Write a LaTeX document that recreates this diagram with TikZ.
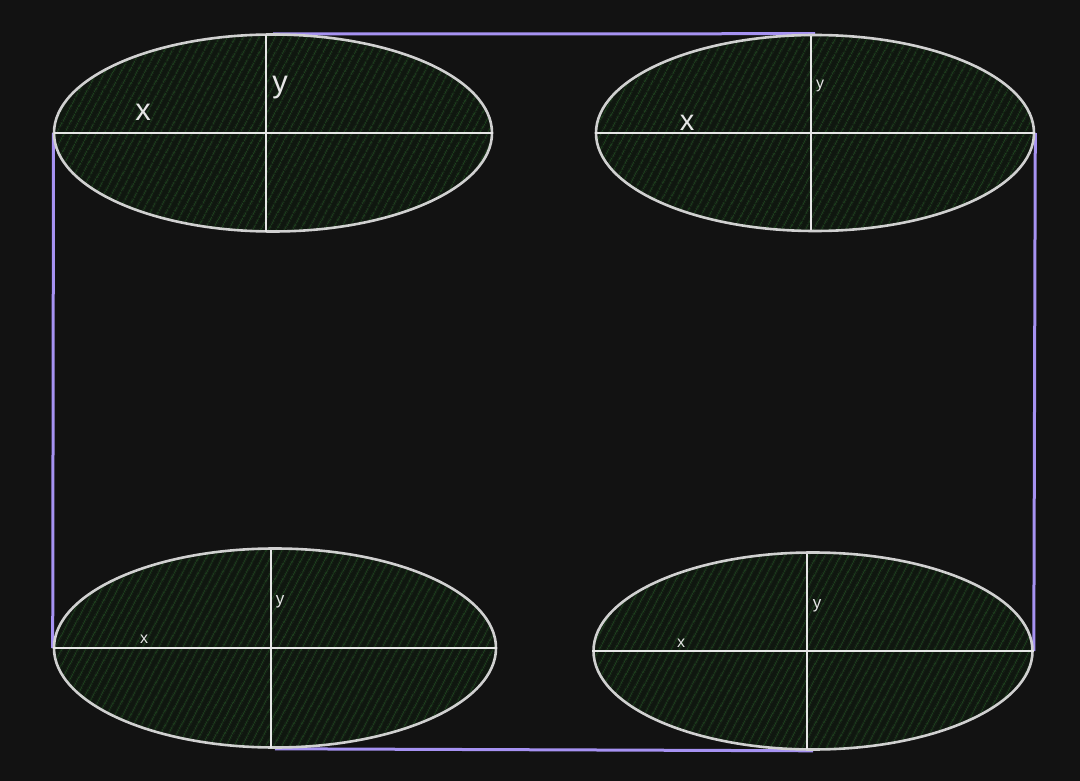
\documentclass[tikz,border=0pt]{standalone}
\usepackage{fontspec}
\setmainfont{Liberation Sans}
\usetikzlibrary{shapes.geometric,patterns.meta,backgrounds}
\definecolor{bgc}{HTML}{121212}
\definecolor{fillc}{HTML}{0F170F}
\definecolor{hatchc}{HTML}{1F421F}
\definecolor{edgec}{HTML}{D0D0D0}
\definecolor{axisc}{HTML}{E6E6E6}
\definecolor{linkc}{HTML}{A692F2}
\tikzset{
  blob/.style={ellipse, draw=edgec, line width=2.6pt, inner sep=0pt,
    preaction={fill=fillc},
    pattern={Lines[angle=62, distance=6.5pt, line width=1pt]}, pattern color=hatchc},
  axisline/.style={draw=axisc, line width=2.8pt},
  link/.style={draw=linkc, line width=3pt},
  lbl/.style={text=axisc, inner sep=0pt, font=\fontsize{#1}{#1}\selectfont},
}
\begin{document}
\begin{tikzpicture}[x=1pt, y=-1pt]
\useasboundingbox (0,0) rectangle (1080,781);
\node[blob, minimum width=438pt, minimum height=197pt] (e1) at (273,133) {};
\node[blob, minimum width=438pt, minimum height=196pt] (e2) at (815,133) {};
\node[blob, minimum width=442pt, minimum height=199pt] (e3) at (275,648) {};
\node[blob, minimum width=439pt, minimum height=197pt] (e4) at (813,651) {};
\begin{scope}[on background layer]
\fill[bgc] (0,0) rectangle (1080,781);
\draw[link] (e1.west) -- (e3.west);
\draw[link] (e1.north) -- (e2.north);
\draw[link] (e2.east) -- (e4.east);
\draw[link] (e3.south) -- (e4.south);
\end{scope}
% axes
\draw[axisline] (e1.west) -- (e1.east);
\draw[axisline] (266,35) -- (266,232);
\draw[axisline] (e2.west) -- (e2.east);
\draw[axisline] (811,36) -- (811,230);
\draw[axisline] (e3.west) -- (e3.east);
\draw[axisline] (271,550) -- (271,748);
\draw[axisline] (e4.west) -- (e4.east);
\draw[axisline] (807,554) -- (807,749);
% labels
\node[lbl=31] (x1) at (143,112) {x};
\node[lbl=31] (y1) at (280,88) {y};
\node[lbl=16] (y2) at (820,86) {y};
\node[lbl=29] (x2) at (687,123) {x};
\node[lbl=17] (y3) at (280,602) {y};
\node[lbl=16] (x3) at (144,639) {x};
\node[lbl=17] (y4) at (817,606) {y};
\node[lbl=16] (x4) at (681,643) {x};
\end{tikzpicture}
\end{document}
